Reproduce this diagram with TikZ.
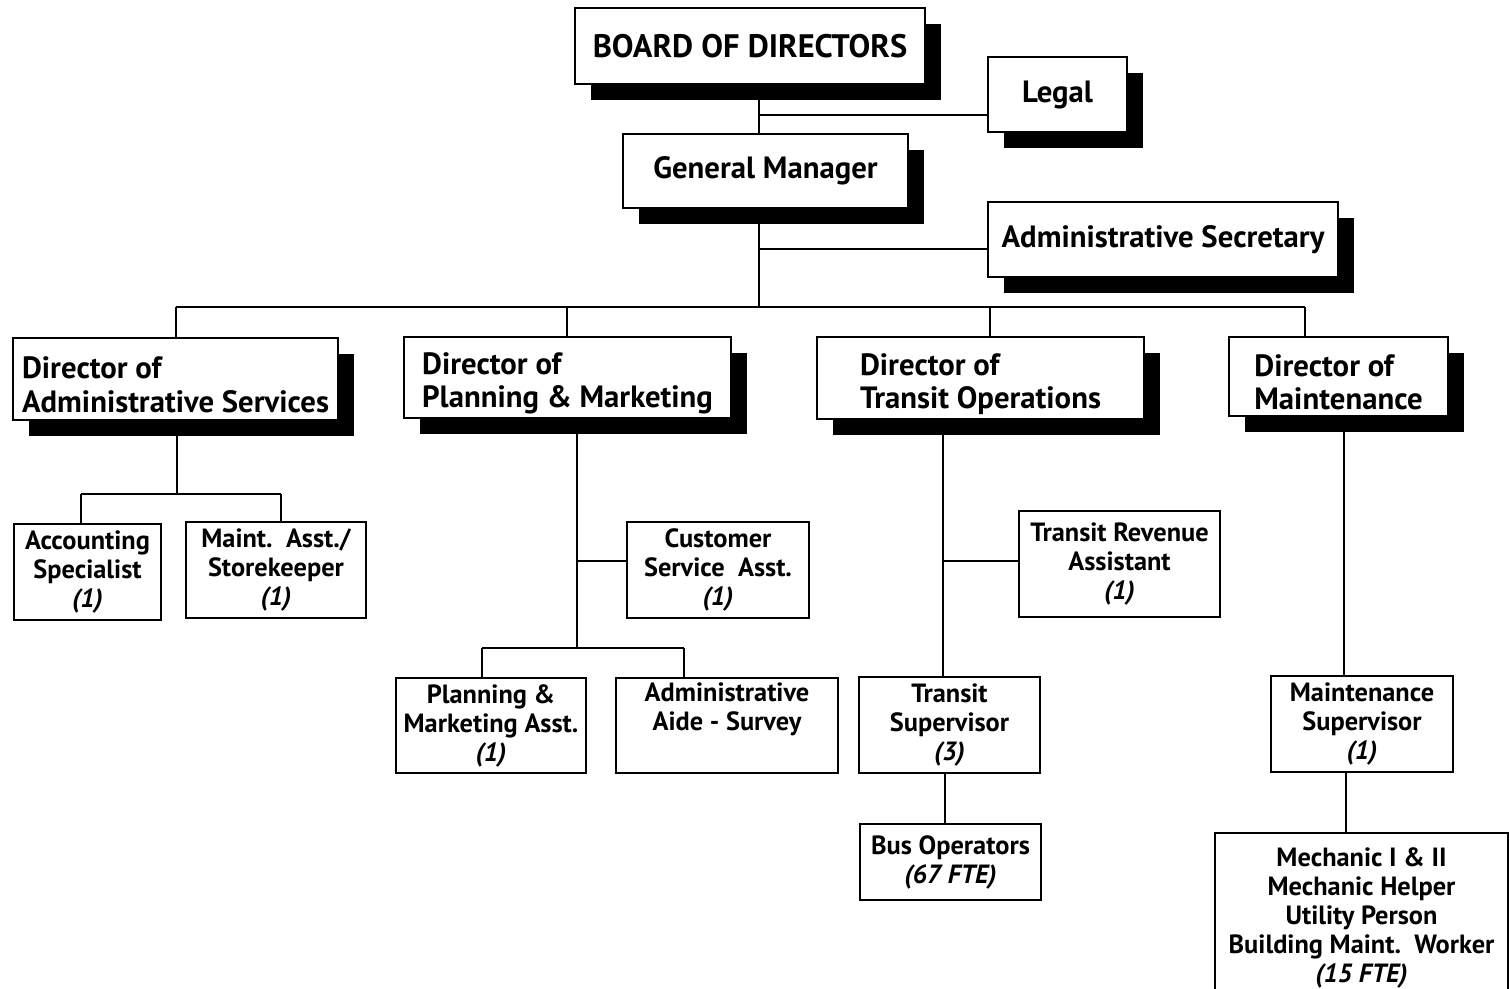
\documentclass[tikz,border=0pt]{standalone}
\usepackage{fontspec}
\setmainfont{PT Sans}
\usetikzlibrary{shadows,calc}

\begin{document}
\begin{tikzpicture}[
  line width=1pt,
  head/.style={draw, fill=white, inner sep=2pt, minimum width=#1,
               drop shadow={shadow xshift=0.32cm, shadow yshift=-0.32cm, fill=black, opacity=1}},
  head/.default=2cm,
  top/.style={head=#1, font=\fontsize{17.5}{20}\selectfont\bfseries},
  dir/.style={head=#1, align=left, text height=38pt, font=\fontsize{17.5}{18.9}\selectfont\bfseries},
  post/.style={draw, fill=white, align=center, inner sep=1pt, minimum width=#1,
               font=\fontsize{15}{16.5}\selectfont\bfseries},
]
\useasboundingbox (0,0) rectangle (30.2,-19.78);

% top of the chart
\node[top=7cm, minimum height=1.52cm, font=\fontsize{18.5}{21}\selectfont\bfseries] (bod) at (15.0,-0.92) {BOARD OF DIRECTORS};
\node[top=2.78cm, minimum height=1.5cm] (legal) at (21.15,-1.89) {Legal};
\node[top=5.7cm, minimum height=1.48cm] (gm) at (15.31,-3.42) {General Manager};
\node[top=7cm, minimum height=1.5cm] (sec) at (23.26,-4.79) {Administrative Secretary};

% directors
\node[dir=6.5cm, minimum height=1.64cm] (d1) at (3.51,-7.58) {Director of\\Administrative Services};
\node[dir=6.54cm, minimum height=1.58cm] (d2) at (11.35,-7.55) {Director of\\Planning \& Marketing};
\node[dir=6.54cm, minimum height=1.64cm] (d3) at (19.61,-7.56) {Director of\\Transit Operations};
\node[dir=4.38cm, minimum height=1.58cm] (d4) at (26.77,-7.53) {Director of\\Maintenance};

% staff
\node[post=2.94cm, minimum height=1.92cm] (acc) at (1.75,-11.44) {Accounting\\Specialist\\\textit{(1)}};
\node[post=3.6cm, minimum height=1.92cm] (store) at (5.52,-11.40) {Maint.\ \ Asst./\\Storekeeper\\\textit{(1)}};
\node[post=3.64cm, minimum height=1.92cm] (cust) at (14.36,-11.40) {Customer\\Service\ \ Asst.\\\textit{(1)}};
\node[post=3.8cm, minimum height=1.9cm] (pma) at (9.82,-14.51) {Planning \&\\Marketing Asst.\\\textit{(1)}};
\node[post=4.44cm, minimum height=1.9cm] (aide) at (14.54,-14.51) {Administrative\\Aide - Survey\\\strut};
\node[post=4.02cm, minimum height=2.12cm] (rev) at (22.39,-11.28) {Transit Revenue\\Assistant\\\textit{(1)}};
\node[post=3.62cm, minimum height=1.92cm] (tsup) at (18.99,-14.50) {Transit\\Supervisor\\\textit{(3)}};
\node[post=3.62cm, minimum height=1.52cm] (bus) at (19.01,-17.24) {Bus Operators\\\textit{(67 FTE)}};
\node[post=3.64cm, minimum height=1.92cm] (msup) at (27.24,-14.48) {Maintenance\\Supervisor\\\textit{(1)}};
\node[post=5.86cm, minimum height=3.4cm] (mech) at (27.23,-18.36)
  {Mechanic I \& II\\Mechanic Helper\\Utility Person\\Building Maint.\ \ Worker\\\textit{(15 FTE)}};

% junctions
\coordinate (sp) at (15.18,-2.30);
\coordinate (sq) at (15.18,-4.98);
\coordinate (bus1) at (15.18,-6.14);
\coordinate (j1) at (3.54,-9.88);
\coordinate (j2) at (11.54,-11.22);
\coordinate (j3) at (11.54,-12.96);
\coordinate (j4) at (18.86,-11.22);

\draw (bod.south -| sp) -- (gm.north -| sp);
\draw (sp) -- (sp -| legal.west);
\draw (gm.south -| sq) -- (bus1);
\draw (sq) -- (sq -| sec.west);

% bus to the directors
\draw (3.52,-6.14) -- (26.10,-6.14);
\foreach \x/\d in {3.52/d1, 11.34/d2, 19.80/d3, 26.10/d4}
  \draw (\x,-6.14) -- (\x,-6.14 |- \d.north);

% administrative services
\draw (d1.south -| j1) -- (j1);
\draw (1.62,-9.88) -- (5.62,-9.88);
\draw (1.62,-9.88) -- (1.62,-9.88 |- acc.north);
\draw (5.62,-9.88) -- (5.62,-9.88 |- store.north);

% planning & marketing
\draw (d2.south -| j2) -- (j3);
\draw (j2) -- (j2 -| cust.west);
\draw (9.64,-12.96) -- (13.68,-12.96);
\draw (9.64,-12.96) -- (9.64,-12.96 |- pma.north);
\draw (13.68,-12.96) -- (13.68,-12.96 |- aide.north);

% transit operations
\draw (d3.south -| j4) -- (tsup.north -| j4);
\draw (j4) -- (j4 -| rev.west);
\draw (tsup.south -| 18.90,0) -- (bus.north -| 18.90,0);

% maintenance
\draw (d4.south -| 26.88,0) -- (msup.north -| 26.88,0);
\draw (msup.south -| 26.92,0) -- (mech.north -| 26.92,0);
\end{tikzpicture}
\end{document}
